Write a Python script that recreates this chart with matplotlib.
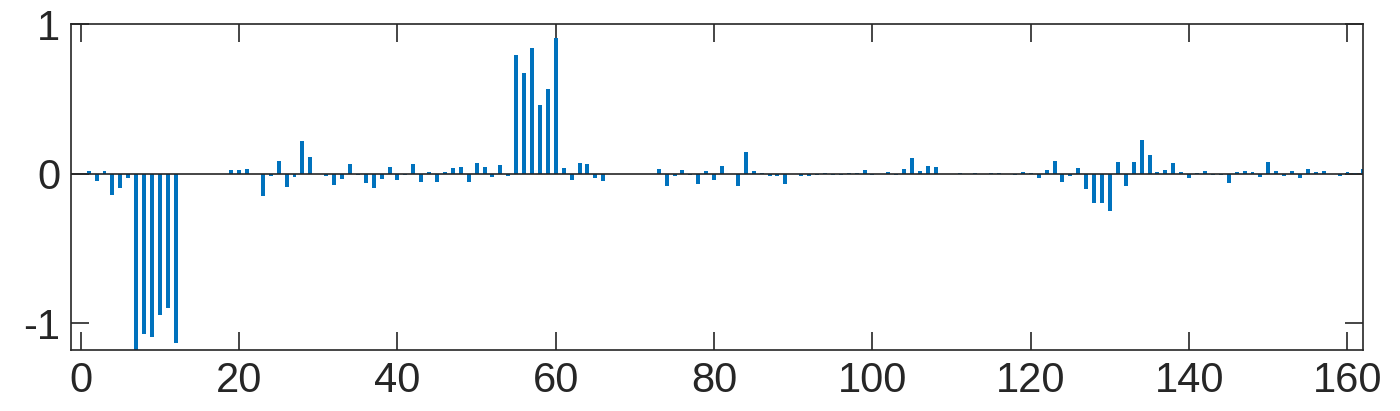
import matplotlib
matplotlib.use('Agg')
import matplotlib.pyplot as plt
import numpy as np

# coefficient values for indices 1..162
values = [
    0.016, -0.047, 0.016, -0.14, -0.096, -0.03, -1.25, -1.07, -1.096, -0.946,
    -0.90, -1.136, 0, 0, 0, 0, 0, 0, 0.025, 0.025,
    0.03, 0, -0.15, -0.013, 0.085, -0.09, -0.022, 0.22, 0.112, 0,
    -0.016, -0.076, -0.036, 0.067, -0.009, -0.06, -0.096, -0.036, 0.045, -0.042,
    -0.009, 0.067, -0.056, 0.013, -0.056, 0.013, 0.038, 0.045, -0.056, 0.072,
    0.045, -0.022, 0.058, -0.016, 0.794, 0.676, 0.843, 0.461, 0.564, 0.911,
    0.036, -0.04, 0.072, 0.065, -0.029, -0.049, 0, 0, 0, 0,
    0, 0, 0.031, -0.08, -0.013, 0.025, -0.009, -0.067, 0.018, -0.042,
    0.051, 0, -0.08, 0.145, 0.016, 0.007, -0.013, -0.013, -0.067, 0,
    -0.013, -0.013, -0.008, 0.007, -0.008, -0.008, 0.007, 0.007, 0.025, -0.008,
    0, 0.013, -0.008, 0.031, 0.105, 0.02, 0.051, 0.045, 0, 0,
    0.007, 0, 0.007, 0, 0.007, 0.007, 0, -0.008, 0.013, 0.007,
    -0.029, 0.025, 0.085, -0.056, -0.016, 0.038, -0.103, -0.196, -0.196, -0.248,
    0.078, -0.08, 0.078, 0.226, 0.125, 0.013, 0.025, 0.072, 0.011, -0.029,
    0.007, 0.018, -0.008, -0.008, -0.06, 0.011, 0.018, 0.011, -0.022, 0.078,
    0.018, -0.016, 0.018, -0.029, 0.031, 0.011, 0.018, 0, -0.016, 0.011,
    0.007, 0.031,
]
index = np.arange(1, len(values) + 1)

xticks = [0, 20, 40, 60, 80, 100, 120, 140, 160]
yticks = [-1, 0, 1]

plt.rcParams['font.family'] = ['Liberation Sans', 'DejaVu Sans']
plt.rcParams['axes.unicode_minus'] = False

fig = plt.figure(figsize=(14, 4.11), dpi=100)
ax = fig.add_axes([0.0509, 0.1484, 0.9229, 0.7926])

ax.bar(index, values, width=0.5, color='#0072BD', edgecolor='none', zorder=2)
ax.axhline(0, color='#262626', linewidth=1.2, zorder=3)

ax.set_xlim(-1.2, 162)
ax.set_ylim(-1.18, 1.0)
ax.set_xticks(xticks)
ax.set_yticks(yticks)
ax.tick_params(direction='in', length=13, width=1.2, top=True, right=True,
               labelsize=30, colors='#262626', pad=8)
for s in ax.spines.values():
    s.set_color('#262626')
    s.set_linewidth(1.2)

fig.savefig('out.png', dpi=100)
